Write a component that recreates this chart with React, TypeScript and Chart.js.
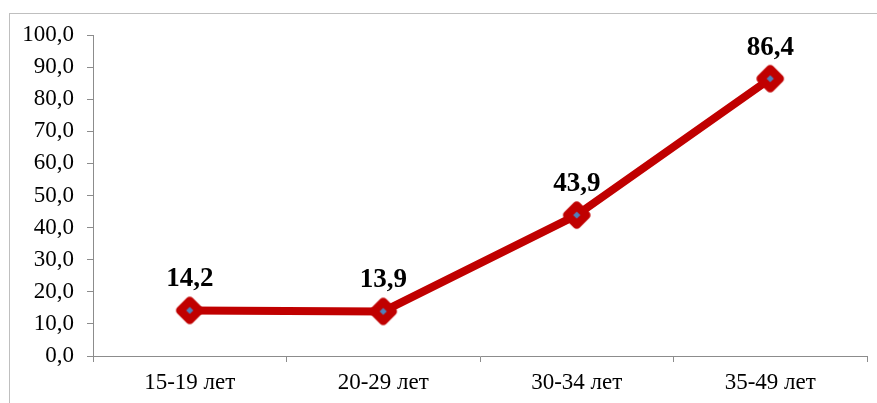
import React, { useEffect, useRef } from "react";
import { Chart, registerables } from "chart.js";

Chart.register(...registerables);

// Age groups and the rate per group
const categories: string[] = ["15-19 лет", "20-29 лет", "30-34 лет", "35-49 лет"];
const values: number[] = [14.2, 13.9, 43.9, 86.4];

// Y axis range and step
const yMin = 0;
const yMax = 100;
const yStep = 10;

const LINE_RED = "#C00000";
const MARKER_BLUE = "#4F81BD";
const AXIS_GRAY = "#8c8c8c";
const FONT_FAMILY = "'Liberation Serif', 'Times New Roman', serif";

const fmt = (v: number) => v.toFixed(1).replace(".", ",");

// Rounded red diamond with a small blue centre, used as the point style
function makeMarker(): HTMLCanvasElement {
  const size = 32;
  const c = document.createElement("canvas");
  c.width = size;
  c.height = size;
  const ctx = c.getContext("2d")!;
  const m = size / 2;
  const r = 9.5;
  ctx.beginPath();
  ctx.moveTo(m, m - r);
  ctx.lineTo(m + r, m);
  ctx.lineTo(m, m + r);
  ctx.lineTo(m - r, m);
  ctx.closePath();
  ctx.fillStyle = LINE_RED;
  ctx.fill();
  ctx.lineJoin = "round";
  ctx.lineWidth = 8.5;
  ctx.strokeStyle = LINE_RED;
  ctx.stroke();
  const b = 3.6;
  ctx.beginPath();
  ctx.moveTo(m, m - b);
  ctx.lineTo(m + b, m);
  ctx.lineTo(m, m + b);
  ctx.lineTo(m - b, m);
  ctx.closePath();
  ctx.fillStyle = MARKER_BLUE;
  ctx.fill();
  return c;
}

// Bold value labels above each point
const valueLabels = {
  id: "valueLabels",
  afterDatasetsDraw(chart: any) {
    const ctx = chart.ctx;
    const meta = chart.getDatasetMeta(0);
    ctx.save();
    ctx.font = `bold 27px ${FONT_FAMILY}`;
    ctx.fillStyle = "#000";
    ctx.textAlign = "center";
    ctx.textBaseline = "alphabetic";
    meta.data.forEach((pt: any, i: number) => {
      ctx.fillText(fmt(values[i]), pt.x, pt.y - 24);
    });
    ctx.restore();
  },
};

export default function App() {
  const ref = useRef<HTMLCanvasElement>(null);

  useEffect(() => {
    if (!ref.current) return;
    const marker = makeMarker();
    const chart = new Chart(ref.current, {
      type: "line",
      data: {
        labels: categories,
        datasets: [
          {
            data: values,
            borderColor: LINE_RED,
            borderWidth: 8,
            borderJoinStyle: "round",
            borderCapStyle: "round",
            pointStyle: marker as any,
            pointRadius: 14,
            pointHoverRadius: 14,
            tension: 0,
          },
        ],
      },
      options: {
        responsive: false,
        animation: false,
        events: [],
        layout: {
          autoPadding: false,
          padding: { top: 35, right: 10, left: 0, bottom: 0 },
        },
        plugins: {
          legend: { display: false },
          tooltip: { enabled: false },
        },
        scales: {
          x: {
            offset: true,
            grid: {
              offset: true,
              drawOnChartArea: false,
              drawTicks: true,
              tickLength: 6,
              color: AXIS_GRAY,
            },
            border: { color: AXIS_GRAY, width: 1 },
            ticks: {
              color: "#000",
              padding: 7,
              maxRotation: 0,
              font: { family: FONT_FAMILY, size: 23 },
            },
            afterFit: (s: any) => {
              s.height = 47;
              s.paddingLeft = 0;
              s.paddingRight = 0;
            },
          },
          y: {
            min: yMin,
            max: yMax,
            grid: {
              drawOnChartArea: false,
              drawTicks: true,
              tickLength: 6,
              color: AXIS_GRAY,
            },
            border: { color: AXIS_GRAY, width: 1 },
            ticks: {
              stepSize: yStep,
              color: "#000",
              padding: 13,
              font: { family: FONT_FAMILY, size: 23 },
              callback: (v: any) => fmt(Number(v)),
            },
            afterFit: (s: any) => {
              s.width = 93;
              s.paddingTop = 0;
              s.paddingBottom = 0;
            },
          },
        },
      },
      plugins: [valueLabels],
    });
    return () => chart.destroy();
  }, []);

  return (
    <div
      style={{
        position: "fixed",
        left: 0,
        top: 0,
        width: 877,
        height: 403,
        overflow: "hidden",
        background: "#fff",
      }}
    >
      <div
        style={{
          position: "absolute",
          left: 9,
          top: 13,
          width: 900,
          height: 420,
          border: "1px solid #bfbfbf",
        }}
      />
      <canvas
        ref={ref}
        width={877}
        height={403}
        style={{ position: "absolute", left: 0, top: 0 }}
      />
    </div>
  );
}
